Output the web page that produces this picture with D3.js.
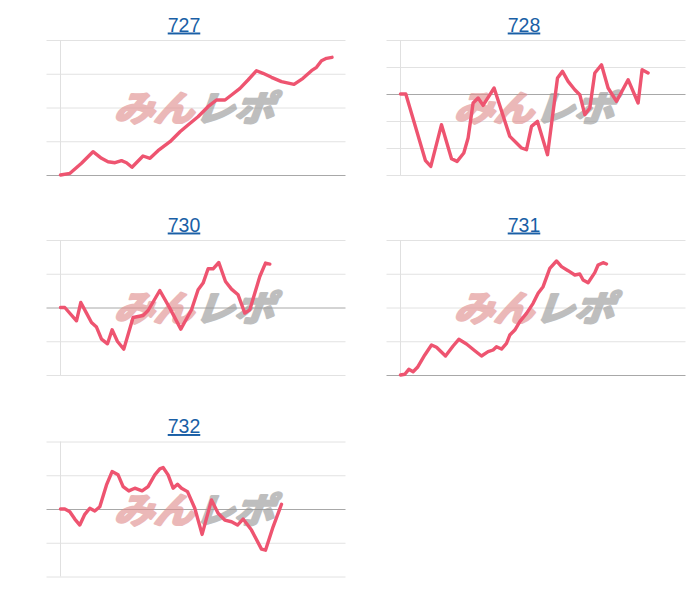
<!DOCTYPE html>
<html>
<head>
<meta charset="utf-8">
<script src="https://cdn.jsdelivr.net/npm/d3@7"></script>
<style>
  html, body { margin: 0; padding: 0; background: #ffffff; }
  svg { display: block; }
</style>
</head>
<body>
<div id="chart"></div>
<script>
// ---- data (x = games played, y = coin difference) ----
const machineIds = ["727", "728", "730", "731", "732"];

const x727 = [0, 190, 420, 650, 820, 950, 1090, 1220, 1320, 1430, 1650, 1790, 1950, 2190, 2390, 2550, 2750, 2950, 3120, 3290, 3420, 3590, 3750, 3920, 4050, 4220, 4420, 4670, 4850, 5020, 5120, 5220, 5320, 5430];
const y727 = [0, 50, 347, 690, 495, 394, 364, 424, 364, 228, 563, 495, 720, 987, 1283, 1481, 1727, 2024, 2222, 2222, 2370, 2568, 2815, 3090, 3013, 2894, 2765, 2687, 2865, 3090, 3190, 3387, 3457, 3487];

const x728 = [0, 106, 500, 606, 820, 1020, 1132, 1266, 1352, 1452, 1552, 1652, 1872, 2186, 2320, 2420, 2520, 2620, 2740, 2940, 3140, 3240, 3352, 3486, 3586, 3686, 3786, 3886, 4020, 4152, 4320, 4552, 4752, 4832, 4952];
const y728 = [0, 0, -2470, -2682, -1137, -2396, -2496, -2185, -1630, -333, -148, -422, 222, -1570, -1815, -2000, -2063, -1200, -1015, -2248, 593, 837, 467, 159, -26, -767, -519, 778, 1085, 222, -274, 530, -333, 900, 778];

const x730 = [0, 86, 320, 406, 520, 620, 720, 820, 940, 1032, 1140, 1266, 1452, 1652, 1752, 1986, 2186, 2406, 2620, 2752, 2852, 2952, 3052, 3166, 3300, 3420, 3552, 3686, 3786, 3986, 4100, 4186];
const y730 = [0, 0, -394, 148, -166, -444, -581, -936, -1076, -661, -1007, -1233, -296, -237, -89, 504, -18, -640, -68, 524, 723, 1147, 1147, 1333, 770, 545, 376, -166, -68, 919, 1316, 1286];

const x731 = [0, 86, 166, 252, 340, 486, 620, 720, 900, 1052, 1166, 1320, 1486, 1620, 1752, 1852, 1920, 2020, 2120, 2186, 2286, 2386, 2520, 2652, 2752, 2852, 2986, 3120, 3220, 3352, 3486, 3586, 3652, 3752, 3886, 3952, 4052, 4120];
const y731 = [0, 21, 168, 98, 228, 593, 889, 820, 563, 859, 1057, 919, 720, 563, 691, 741, 839, 770, 939, 1185, 1333, 1580, 1827, 2123, 2420, 2617, 3161, 3378, 3210, 3091, 2963, 2993, 2815, 2735, 3032, 3259, 3328, 3289];

const x732 = [0, 86, 186, 286, 386, 486, 586, 686, 786, 920, 1032, 1152, 1252, 1366, 1486, 1632, 1752, 1886, 1986, 2052, 2152, 2252, 2340, 2420, 2540, 2686, 2832, 3020, 3152, 3286, 3420, 3540, 3652, 3820, 4020, 4100, 4252, 4420];
const y732 = [0, 0, -80, -298, -476, -158, 21, -60, 68, 714, 1110, 1012, 664, 536, 616, 536, 664, 1012, 1190, 1229, 1012, 616, 735, 616, 515, 21, -753, 268, -128, -327, -378, -476, -298, -625, -1190, -1220, -527, 140];

const yTicks727 = [0, 1000, 2000, 3000, 4000];
const yTicks728 = [-3000, -2000, -1000, 0, 1000, 2000];
const yTicks730 = [-2000, -1000, 0, 1000, 2000];
const yTicks731 = [0, 1000, 2000, 3000, 4000];
const yTicks732 = [-2000, -1000, 0, 1000, 2000];

const xMax = 5700;

// ---- layout ----
const W = 700, H = 600;
const series = [
  { id: machineIds[0], xs: x727, ys: y727, ticks: yTicks727, col: 0, row: 0 },
  { id: machineIds[1], xs: x728, ys: y728, ticks: yTicks728, col: 1, row: 0 },
  { id: machineIds[2], xs: x730, ys: y730, ticks: yTicks730, col: 0, row: 1 },
  { id: machineIds[3], xs: x731, ys: y731, ticks: yTicks731, col: 1, row: 1 },
  { id: machineIds[4], xs: x732, ys: y732, ticks: yTicks732, col: 0, row: 2 },
];
const colLeft = [60.5, 400.5];
const titleX = [184, 524];
const rowTop = [40, 240, 441.5];
const plotW = 285, plotH = 135;

const svg = d3.select("#chart").append("svg")
  .attr("width", W).attr("height", H)
  .style("font-family", "'Liberation Sans', Arial, sans-serif");

series.forEach(s => {
  const left = colLeft[s.col], top = rowTop[s.row];
  const x = d3.scaleLinear().domain([0, xMax]).range([left, left + plotW]);
  const y = d3.scaleLinear().domain(d3.extent(s.ticks)).range([top + plotH, top]);

  const g = svg.append("g");

  // title (link style)
  g.append("text")
    .attr("x", titleX[s.col]).attr("y", top - 8.5)
    .attr("text-anchor", "middle")
    .attr("font-size", 19.5)
    .attr("fill", "#1a5fa6")
    .attr("text-decoration", "underline")
    .text(s.id);

  // horizontal gridlines via axis
  const axis = d3.axisLeft(y).tickValues(s.ticks).tickSize(-(plotW + 14)).tickFormat("");
  const ag = g.append("g").attr("transform", `translate(${left + plotW},0)`).call(axis);
  ag.select(".domain").remove();
  ag.selectAll(".tick line")
    .attr("transform", "scale(-1,1)")
    .attr("stroke", d => d === 0 ? "#a8a8a8" : "#e2e2e2")
    .attr("stroke-width", 1);
  ag.selectAll(".tick").filter(d => d === 0).raise();

  // vertical axis line
  g.append("line")
    .attr("x1", x(0)).attr("x2", x(0))
    .attr("y1", y.range()[1]).attr("y2", y.range()[0])
    .attr("stroke", "#e0e0e0").attr("stroke-width", 1);

  // watermark
  const cx = left + plotW / 2, cy = top + plotH / 2;
  const wm = g.append("g")
    .attr("transform", `translate(${cx},${cy}) skewX(-20) scale(1.02,0.9)`)
    .attr("font-family", "'Noto Sans CJK JP', sans-serif")
    .attr("font-weight", 700)
    .attr("font-size", 39);
  const wm1 = wm.append("g").attr("opacity", 0.62);
  wm1.append("text")
    .attr("x", -5).attr("y", 15)
    .attr("text-anchor", "end")
    .attr("fill", "#e08e8e").attr("stroke", "#e08e8e").attr("stroke-width", 3)
    .attr("stroke-linejoin", "round")
    .text("みん");
  const wm2 = wm.append("g").attr("opacity", 0.62);
  wm2.append("text")
    .attr("x", -4).attr("y", 15)
    .attr("text-anchor", "start")
    .attr("fill", "#979797").attr("stroke", "#979797").attr("stroke-width", 3)
    .attr("stroke-linejoin", "round")
    .text("レポ");

  // data line
  const pts = s.xs.map((v, i) => [v, s.ys[i]]);
  g.append("path")
    .datum(pts)
    .attr("fill", "none")
    .attr("stroke", "#ee5470")
    .attr("stroke-width", 3.4)
    .attr("stroke-linejoin", "round")
    .attr("stroke-linecap", "round")
    .attr("d", d3.line().x(d => x(d[0])).y(d => y(d[1])));
});
</script>
</body>
</html>
